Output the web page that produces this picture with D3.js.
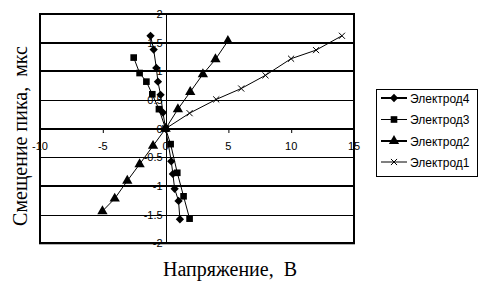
<!DOCTYPE html>
<html><head><meta charset="utf-8">
<script src="https://cdn.jsdelivr.net/npm/d3@7"></script>
<style>body{margin:0;background:#fff}svg text{white-space:pre}</style>
</head><body>
<script>
const xTicks = [-10, -5, 0, 5, 10, 15];
const yTicks = [2, 1.5, 1, 0.5, 0, -0.5, -1, -1.5, -2];
const yTickLabels = ["2", "1.5", "1", "0.5", "0", "-0.5", "-1", "-1.5", "-2"];
const seriesNames = ["Электрод4", "Электрод3", "Электрод2", "Электрод1"];
const e4x = [-1.2, -0.95, -0.74, -0.61, -0.4, -0.21, 0, 0.45, 0.58, 0.72, 1.03, 1.14];
const e4y = [1.62, 1.38, 1.06, 0.82, 0.59, 0.28, 0, -0.57, -0.79, -1.05, -1.26, -1.58];
const e3x = [-2.54, -2.07, -1.53, -1.06, -0.53, 0, 0.4, 0.93, 1.43, 1.91];
const e3y = [1.24, 0.97, 0.82, 0.6, 0.34, 0, -0.27, -0.77, -1.18, -1.57];
const e2x = [-5.03, -4.05, -3.05, -2.07, -1.0, 0, 0.98, 1.96, 2.97, 3.97, 4.96];
const e2y = [-1.44, -1.22, -0.91, -0.62, -0.3, 0, 0.34, 0.64, 0.95, 1.21, 1.53];
const e1x = [0, 1.91, 4.03, 6.02, 7.95, 9.99, 11.98, 14.04];
const e1y = [0, 0.27, 0.51, 0.70, 0.93, 1.22, 1.37, 1.62];

const W = 484, H = 281;
const svg = d3.select("body").append("svg").attr("width", W).attr("height", H);
const x = d3.scaleLinear().domain([-10, 15]).range([40, 354]);
const y = d3.scaleLinear().domain([-2, 2]).range([243.3, 14]);

// gridlines
const thick = new Set([2, 1.5, 1, 0, -1, -2]);
svg.append("g").selectAll("line").data(yTicks).join("line")
  .attr("x1", x(-10)).attr("x2", x(15))
  .attr("y1", d => Math.round(y(d)) + (thick.has(d) ? 0 : 0.5))
  .attr("y2", d => Math.round(y(d)) + (thick.has(d) ? 0 : 0.5))
  .attr("stroke", "#000").attr("stroke-width", d => thick.has(d) ? 2 : 1);
// plot border
svg.append("rect").attr("x", x(-10)).attr("y", y(2)).attr("width", x(15) - x(-10)).attr("height", y(-2) - y(2))
  .attr("fill", "none").attr("stroke", "#000").attr("stroke-width", 2);

// axes through zero
const xAxis = d3.axisBottom(x).tickValues(xTicks).tickSize(4).tickFormat(() => "");
svg.append("g").attr("transform", `translate(0,${Math.round(y(0))})`).call(xAxis)
  .call(g => g.select(".domain").remove())
  .call(g => g.selectAll("line").attr("stroke", "#000"));
svg.append("line").attr("x1", Math.round(x(0)) + 0.5).attr("x2", Math.round(x(0)) + 0.5)
  .attr("y1", y(2)).attr("y2", y(-2)).attr("stroke", "#000");

const tf = "Liberation Sans, Arial, sans-serif";
svg.append("g").selectAll("text").data(xTicks).join("text")
  .attr("x", d => x(d)).attr("y", y(0) + 21).attr("text-anchor", "middle")
  .attr("font-family", tf).attr("font-size", 11).text(d => d);
svg.append("g").selectAll("text").data(yTicks).join("text")
  .attr("x", x(0) - 3).attr("y", d => y(d) + 4).attr("text-anchor", "end")
  .attr("font-family", tf).attr("font-size", 11).text((d, i) => yTickLabels[i]);

// series
const line = d3.line().x(d => x(d[0])).y(d => y(d[1]));
const zip = (a, b) => a.map((v, i) => [v, b[i]]);
const series = [
  {name: seriesNames[0], pts: zip(e4x, e4y), sym: d3.symbolDiamond2, size: 44, lw: 2},
  {name: seriesNames[1], pts: zip(e3x, e3y), sym: d3.symbolSquare, size: 44, lw: 1},
  {name: seriesNames[2], pts: zip(e2x, e2y), sym: d3.symbolTriangle, size: 46, lw: 2},
  {name: seriesNames[3], pts: zip(e1x, e1y), sym: d3.symbolTimes, size: 26, lw: 1}
];
function marker(g, s, cx, cy) {
  const p = g.append("path").attr("d", d3.symbol(s.sym, s.size)()).attr("transform", `translate(${cx},${cy})`);
  if (s.sym === d3.symbolTimes) p.attr("fill", "none").attr("stroke", "#000").attr("stroke-width", 1);
  else p.attr("fill", "#000");
}
series.forEach(s => {
  const g = svg.append("g");
  g.append("path").attr("d", line(s.pts)).attr("fill", "none").attr("stroke", "#000").attr("stroke-width", 1);
  s.pts.forEach(p => marker(g, s, x(p[0]), y(p[1])));
});

// axis titles
const sf = "Liberation Serif, Times New Roman, serif";
svg.append("text").attr("transform", "translate(27,136) rotate(-90)").attr("text-anchor", "middle")
  .attr("font-family", sf).attr("font-size", 20).text("Смещение пика,  мкс");
svg.append("text").attr("x", 230).attr("y", 276).attr("text-anchor", "middle")
  .attr("font-family", sf).attr("font-size", 20).text("Напряжение,  В");

// legend
const lg = svg.append("g");
lg.append("rect").attr("x", 376.5).attr("y", 89.5).attr("width", 101).attr("height", 87).attr("fill", "#fff").attr("stroke", "#000");
const ly = [98, 119.5, 141, 162];
series.forEach((s, i) => {
  lg.append("line").attr("x1", 381).attr("x2", 407).attr("y1", ly[i]).attr("y2", ly[i]).attr("stroke", "#000").attr("stroke-width", s.lw);
  marker(lg, s, 394, ly[i]);
  lg.append("text").attr("x", 410).attr("y", ly[i] + 4.5).attr("font-family", tf).attr("font-size", 12).text(s.name);
});
</script>
</body></html>
